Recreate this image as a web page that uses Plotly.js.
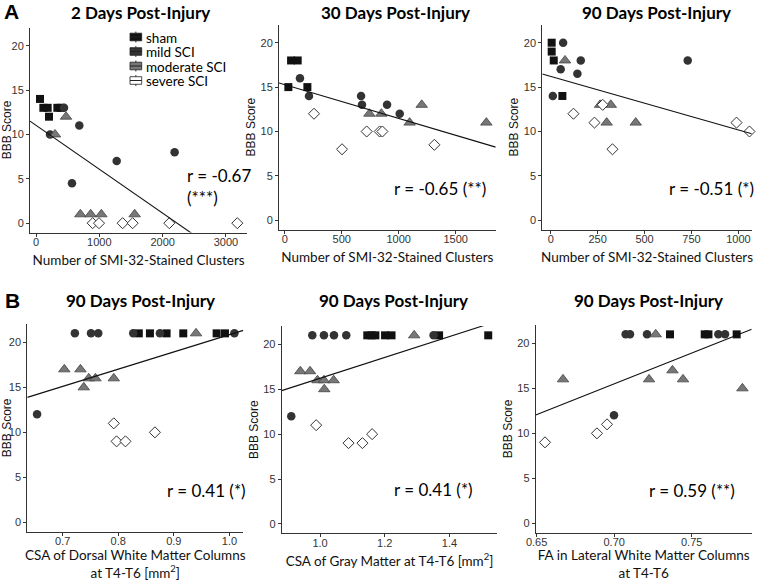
<!DOCTYPE html>
<html>
<head>
<meta charset="utf-8">
<script src="https://cdn.plot.ly/plotly-3.0.1.min.js"></script>
<style>html,body{margin:0;padding:0;background:#fff;}#chart{width:760px;height:581px;}</style>
</head>
<body>
<div id="chart"></div>
<script>
// ---------------- DATA ----------------
const groups = ["sham", "mild SCI", "moderate SCI", "severe SCI"];

// Panel A1: 2 days post-injury, BBB vs number of SMI-32-stained clusters
const p1_x = [63,116,184,205,337,389, 442,221,684,1274,568,2189, 300,474,700,863,1032,1558, 895,995,1368,1526,2105,3179];
const p1_y = [14,13,13,12,13,13, 13,10,11,7,4.5,8, 10,12,1,1,1,1, 0,0,0,0,0,0];
const p1_g = [0,0,0,0,0,0, 1,1,1,1,1,1, 2,2,2,2,2,2, 3,3,3,3,3,3];

// Panel A2: 30 days post-injury
const p2_x = [32,56,114,199, 134,213,670,678,898,1009, 743,848,1096,1202,1769, 257,503,719,833,857,1313];
const p2_y = [15,18,18,15, 16,14,14,13,13,12, 12,12,11,13,11, 12,8,10,10,10,8.5];
const p2_g = [0,0,0,0, 1,1,1,1,1,1, 2,2,2,2,2, 3,3,3,3,3,3];

// Panel A3: 90 days post-injury
const p3_x = [5,5,16,62, 11,66,53,142,160,730, 76,263,320,298,453, 121,233,277,329,990,1059];
const p3_y = [20,19,18,14, 14,20,17,16.5,18,18, 18,13,13,11,11, 12,11,13,8,11,10];
const p3_g = [0,0,0,0, 1,1,1,1,1,1, 2,2,2,2,2, 3,3,3,3,3,3];

// Panel B1: CSA of dorsal white matter columns
const p4_x = [0.837,0.857,0.887,0.917,0.977,0.992, 0.722,0.751,0.764,0.827,0.875,1.009,0.654, 0.940,0.703,0.732,0.738,0.747,0.759,0.792, 0.792,0.797,0.813,0.866];
const p4_y = [21,21,21,21,21,21, 21,21,21,21,21,21,12, 21,17,17,15,16,16,16, 11,9,9,10];
const p4_g = [0,0,0,0,0,0, 1,1,1,1,1,1,1, 2,2,2,2,2,2,2, 3,3,3,3];

// Panel B2: CSA of gray matter
const p5_x = [1.146,1.159,1.171,1.201,1.221,1.368,1.520, 0.976,1.012,1.043,1.081,1.351,0.911, 1.291,0.939,0.969,0.992,1.012,1.013,1.042, 0.988,1.088,1.131,1.161];
const p5_y = [21,21,21,21,21,21,21, 21,21,21,21,21,12, 21,17,17,16,16,15,16, 11,9,9,10];
const p5_g = [0,0,0,0,0,0,0, 1,1,1,1,1,1, 2,2,2,2,2,2,2, 3,3,3,3];

// Panel B3: FA in lateral white matter columns
const p6_x = [0.7360,0.7584,0.7608,0.7790, 0.7074,0.7102,0.7212,0.7672,0.7715,0.6999, 0.7268,0.667,0.7225,0.7376,0.7444,0.7827, 0.6554,0.6889,0.6954];
const p6_y = [21,21,21,21, 21,21,21,21,21,12, 21,16,16,17,16,15, 9,10,11];
const p6_g = [0,0,0,0, 1,1,1,1,1,1, 2,2,2,2,2,2, 3,3,3];

// Regression lines (intercept, slope)
const fitIntercept = [11.03, 15.27, 16.2, 1.70, 4.62, -32.31];
const fitSlope = [-0.00495, -0.0038, -0.00602, 19.15, 11.6, 68.3];

// Labels
const panelTitles = ["2 Days Post-Injury", "30 Days Post-Injury", "90 Days Post-Injury",
                     "90 Days Post-Injury", "90 Days Post-Injury", "90 Days Post-Injury"];
const xTitles = ["Number of SMI-32-Stained Clusters", "Number of SMI-32-Stained Clusters", "Number of SMI-32-Stained Clusters",
                 "CSA of Dorsal White Matter Columns<br>at T4-T6 [mm<sup>2</sup>]",
                 "CSA of Gray Matter at T4-T6 [mm<sup>2</sup>]",
                 "FA in Lateral White Matter Columns<br>at T4-T6"];
const rLabels = ["r = -0.67<br>(***)", "r = -0.65 (**)", "r = -0.51 (*)", "r = 0.41 (*)", "r = 0.41 (*)", "r = 0.59 (**)"];
const xTickVals = [[0,1000,2000,3000],[0,500,1000,1500],[0,250,500,750,1000],[0.7,0.8,0.9,1.0],[1.0,1.2,1.4],[0.65,0.70,0.75]];
const xTickFormat = ["d","d","d",".1f",".1f",".2f"];
const yTickVals = [0,5,10,15,20];

// ---------------- LAYOUT / STYLE ----------------
const W = 760, H = 581;
// pixel boxes of the plotting areas [left, right, top, bottom]
const boxes = [
  [30, 247.3, 27.5, 232.5],
  [279, 495.7, 24.5, 229.6],
  [542.3, 751.7, 24.5, 229.6],
  [27.3, 243.3, 323.9, 531.8],
  [281.7, 497.3, 325.9, 533.4],
  [535.7, 751.7, 324.9, 532.8]
];
const xRanges = [[-95, 3337],[-50, 1851],[-45, 1071],[0.6364, 1.025],[0.8814, 1.548],[0.6494, 0.7887]];
const yRange = [-1.05, 22.05];
const xTitleStandoff = [8, 8, 8, 12, 8, 12];
const datasets = [[p1_x,p1_y,p1_g],[p2_x,p2_y,p2_g],[p3_x,p3_y,p3_g],[p4_x,p4_y,p4_g],[p5_x,p5_y,p5_g],[p6_x,p6_y,p6_g]];

const markerStyles = [
  {symbol:"square", size:8, color:"#111111", line:{width:0}},
  {symbol:"circle", size:8.5, color:"#333333", line:{width:0}},
  {symbol:"triangle-up", size:10, color:"#777777", line:{width:0.8, color:"#444444"}},
  {symbol:"diamond", size:8.5, color:"#ffffff", line:{width:1, color:"#333333"}}
];

const titlePos = [[140,12],[395.7,12],[656,12],[140,300],[393,300],[648,300]];
const rPos = [[185,186.5],[391.7,188.3],[666.7,188.3],[165,490],[391.7,489],[646.7,490]];

const tickFont = {family:"Liberation Sans, Arial, sans-serif", size:11, color:"#333333"};
const titleFamily = "Lato, Carlito, Calibri, sans-serif";

const px = v => v / W;
const py = v => 1 - v / H;

const traces = [];
const layout = {
  width: W, height: H,
  margin: {l:0, r:0, t:0, b:0},
  paper_bgcolor: "#ffffff", plot_bgcolor: "#ffffff",
  showlegend: false,
  annotations: [], shapes: []
};

for (let p = 0; p < 6; p++) {
  const n = p + 1;
  const xa = "x" + (n === 1 ? "" : n), ya = "y" + (n === 1 ? "" : n);
  const [xs, ys, gs] = datasets[p];
  for (let g = 0; g < groups.length; g++) {
    const gx = [], gy = [];
    for (let i = 0; i < xs.length; i++) if (gs[i] === g) { gx.push(xs[i]); gy.push(ys[i]); }
    traces.push({type:"scatter", mode:"markers", x:gx, y:gy, xaxis:xa, yaxis:ya, name:groups[g],
                 marker:markerStyles[g], showlegend:false, cliponaxis:false, hoverinfo:"x+y+name"});
  }
  // regression line over the whole axis range
  const lx = [xRanges[p][0], xRanges[p][1]];
  const ly = lx.map(v => fitIntercept[p] + fitSlope[p] * v);
  traces.push({type:"scatter", mode:"lines", x:lx, y:ly, xaxis:xa, yaxis:ya, name:"fit",
               line:{color:"#111111", width:1.1}, showlegend:false, hoverinfo:"skip"});

  const b = boxes[p];
  const xKey = "xaxis" + (n === 1 ? "" : n), yKey = "yaxis" + (n === 1 ? "" : n);
  layout[xKey] = {
    domain:[px(b[0]), px(b[1])], range:xRanges[p], anchor:ya,
    showline:true, linecolor:"#333333", linewidth:1, mirror:false,
    ticks:"outside", ticklen:3, tickcolor:"#333333", tickwidth:1, ticklabelstandoff:-4,
    tickvals:xTickVals[p], tickformat:xTickFormat[p], tickfont:tickFont,
    showgrid:false, zeroline:false, automargin:false,
    title:{text:xTitles[p], font:{family:titleFamily, size:13.5, color:"#111111"}, standoff:xTitleStandoff[p]}
  };
  layout[yKey] = {
    domain:[py(b[3]), py(b[2])], range:yRange, anchor:xa,
    showline:true, linecolor:"#333333", linewidth:1,
    ticks:"outside", ticklen:3, tickcolor:"#333333", tickwidth:1,
    tickvals:yTickVals, tickfont:tickFont,
    showgrid:false, zeroline:false, automargin:false,
    title:{text:"BBB Score", font:{family:"Liberation Sans, Arial, sans-serif", size:12, color:"#111111"}, standoff:2}
  };

  layout.annotations.push({text:"<b>" + panelTitles[p] + "</b>", xref:"paper", yref:"paper",
    x:px(titlePos[p][0]), y:py(titlePos[p][1]), xanchor:"center", yanchor:"middle", showarrow:false,
    font:{family:titleFamily, size:17, color:"#000000"}});
  layout.annotations.push({text:rLabels[p], xref:"paper", yref:"paper",
    x:px(rPos[p][0]), y:py(rPos[p][1]), xanchor:"left", yanchor:"middle", align:"left", showarrow:false,
    font:{family:titleFamily, size:17, color:"#000000"}});
}

// Panel letters
[["A", 11.7, 11], ["B", 12, 300]].forEach(([t, x, y]) => {
  layout.annotations.push({text:"<b>" + t + "</b>", xref:"paper", yref:"paper", x:px(x), y:py(y),
    xanchor:"center", yanchor:"middle", showarrow:false,
    font:{family:"Liberation Sans, Arial, sans-serif", size:21, color:"#000000"}});
});

// Legend (boxplot-style keys, as in the reference)
const legendFill = ["#111111", "#333333", "#777777", "#ffffff"];
const legendRows = [37, 51.5, 66, 80.5];
for (let g = 0; g < groups.length; g++) {
  const cy = legendRows[g];
  layout.shapes.push({type:"rect", xref:"paper", yref:"paper", x0:px(130), x1:px(141.7), y0:py(cy + 3.8), y1:py(cy - 3.8),
    fillcolor:legendFill[g], line:{color:"#222222", width:0.8}});
  layout.shapes.push({type:"line", xref:"paper", yref:"paper", x0:px(130), x1:px(141.7), y0:py(cy), y1:py(cy),
    line:{color:"#222222", width:1}});
  layout.shapes.push({type:"line", xref:"paper", yref:"paper", x0:px(135.85), x1:px(135.85), y0:py(cy - 5.4), y1:py(cy - 3.8),
    line:{color:"#222222", width:1}});
  layout.shapes.push({type:"line", xref:"paper", yref:"paper", x0:px(135.85), x1:px(135.85), y0:py(cy + 3.8), y1:py(cy + 5.4),
    line:{color:"#222222", width:1}});
  layout.annotations.push({text:groups[g], xref:"paper", yref:"paper", x:px(145.5), y:py(cy),
    xanchor:"left", yanchor:"middle", showarrow:false, height:13, borderpad:0, borderwidth:0,
    font:{family:titleFamily, size:13.5, color:"#000000"}});
}

Plotly.newPlot("chart", traces, layout, {staticPlot:true, displayModeBar:false});
</script>
</body>
</html>
